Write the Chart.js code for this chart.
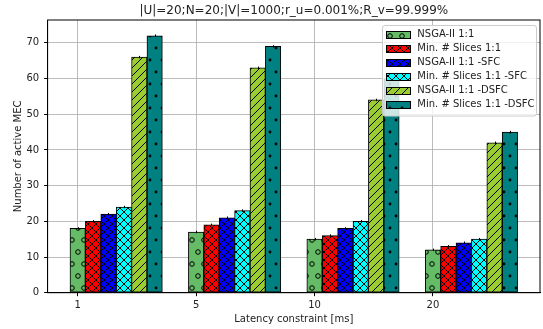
<!DOCTYPE html>
<html>
<head>
<meta charset="utf-8">
<script src="https://cdn.jsdelivr.net/npm/chart.js@4.4.0/dist/chart.umd.min.js"></script>
<style>
  html, body { margin: 0; padding: 0; background: #fff; }
  canvas { display: block; }
</style>
</head>
<body>
<canvas id="myChart" width="543" height="329"></canvas>
<script>
// data
const categories = ["1", "5", "10", "20"];
const seriesNames = [
  "NSGA-II 1:1",
  "Min. # Slices 1:1",
  "NSGA-II 1:1 -SFC",
  "Min. # Slices 1:1 -SFC",
  "NSGA-II 1:1 -DSFC",
  "Min. # Slices 1:1 -DSFC",
];
const nsga = [18, 17, 15, 12];
const minSlices = [20, 19, 16, 13];
const nsgaSfc = [22, 21, 18, 14];
const minSlicesSfc = [24, 23, 20, 15];
const nsgaDsfc = [66, 63, 54, 42];
const minSlicesDsfc = [72, 69, 60, 45];
const errBar = [0.35, 0.35, 0.35, 0.35];
const yTicks = [0, 10, 20, 30, 40, 50, 60, 70];

const series = [nsga, minSlices, nsgaSfc, minSlicesSfc, nsgaDsfc, minSlicesDsfc];
const colors = ["#66bb66", "#ff0000", "#0000ff", "#00ffff", "#9acd32", "#008080"];
const hatches = ["o", "x", "x", "x", "/", "."];

const BAR_W = 0.13;
const lo = -BAR_W / 2, hi = categories.length - 1 + (series.length - 0.5) * BAR_W;
const pad = 0.05 * (hi - lo);

function makePattern(color, hatch) {
  const c = document.createElement("canvas");
  const shapes = hatch === "o" || hatch === ".";
  c.width = shapes ? 12 : 8;
  c.height = shapes ? 24 : 8;
  const g = c.getContext("2d");
  g.fillStyle = color;
  g.fillRect(0, 0, c.width, c.height);
  g.strokeStyle = "#000";
  g.fillStyle = "#000";
  g.lineWidth = 1;
  if (hatch === "/" || hatch === "x") {
    g.beginPath();
    [0, 8, 16].forEach(k => { g.moveTo(k - 9, 9); g.lineTo(k + 1, -1); });
    if (hatch === "x") {
      [-8, 0, 8].forEach(k => { g.moveTo(k - 1, -1); g.lineTo(k + 9, 9); });
    }
    g.stroke();
  } else {
    const pts = [[0, 0], [12, 0], [0, 24], [12, 24], [6, 12]];
    pts.forEach(([px, py]) => {
      g.beginPath();
      if (hatch === "o") {
        g.arc(px, py, 2.3, 0, Math.PI * 2);
        g.stroke();
      } else {
        g.arc(px, py, 1.4, 0, Math.PI * 2);
        g.fill();
      }
    });
  }
  return g.createPattern(c, "repeat");
}

const patterns = colors.map((c, j) => makePattern(c, hatches[j]));

const datasets = series.map((vals, j) => ({
  label: seriesNames[j],
  data: vals.map((v, i) => ({ x: i + j * BAR_W, y: v })),
  backgroundColor: patterns[j],
  borderColor: "#000",
  borderWidth: 1,
  borderSkipped: false,
  grouped: false,
  barPercentage: 1,
  categoryPercentage: 1,
}));

// error bars, frame and legend drawn on top
const extras = {
  id: "extras",
  afterDraw(chart) {
    const ctx = chart.ctx, area = chart.chartArea;
    const xs = chart.scales.x, ys = chart.scales.y;
    ctx.save();
    ctx.strokeStyle = "#000";
    ctx.lineWidth = 1;
    series.forEach((vals, j) => {
      vals.forEach((v, i) => {
        const px = Math.round(xs.getPixelForValue(i + j * BAR_W)) + 0.5;
        ctx.beginPath();
        ctx.moveTo(px, ys.getPixelForValue(v - errBar[i]));
        ctx.lineTo(px, ys.getPixelForValue(v + errBar[i]));
        ctx.stroke();
      });
    });
    ctx.strokeRect(area.left, area.top, area.right - area.left, area.bottom - area.top);

    // legend
    const w = 154, rowH = 14.1;
    const h = 16 + rowH * (seriesNames.length - 1) + 4;
    const x0 = area.right - 4 - w, y0 = area.top + 5;
    ctx.beginPath();
    ctx.roundRect(x0 + 0.5, y0 + 0.5, w, h, 2.5);
    ctx.fillStyle = "rgba(255,255,255,0.8)";
    ctx.fill();
    ctx.strokeStyle = "#cccccc";
    ctx.stroke();
    ctx.font = "10px 'DejaVu Sans'";
    ctx.textBaseline = "middle";
    seriesNames.forEach((name, j) => {
      const cy = y0 + 9.3 + j * rowH;
      ctx.fillStyle = patterns[j];
      ctx.fillRect(x0 + 4.5, Math.round(cy - 3.5) + 0.5, 24, 7);
      ctx.strokeStyle = "#000";
      ctx.strokeRect(x0 + 4.5, Math.round(cy - 3.5) + 0.5, 24, 7);
      ctx.fillStyle = "#222";
      ctx.fillText(name, x0 + 35.3, cy);
    });
    ctx.restore();
  },
};

Chart.defaults.font.family = "'DejaVu Sans'";
Chart.defaults.color = "#222";

new Chart(document.getElementById("myChart"), {
  type: "bar",
  data: { datasets: datasets },
  options: {
    responsive: false,
    devicePixelRatio: 1,
    animation: false,
    layout: { padding: { top: 0, right: 3, bottom: 0, left: 0 } },
    plugins: {
      legend: { display: false },
      tooltip: { enabled: false },
      title: {
        display: true,
        text: "|U|=20;N=20;|V|=1000;r_u=0.001%;R_v=99.999%",
        fullSize: false,
        font: { size: 12, weight: "normal" },
        color: "#222",
        padding: { top: 4, bottom: 1.6 },
      },
    },
    scales: {
      x: {
        type: "linear",
        min: lo - pad,
        max: hi + pad,
        offset: false,
        z: 1,
        afterBuildTicks: s => { s.ticks = categories.map((c, i) => ({ value: i })); },
        afterFit: s => { s.height = 36.3; },
        ticks: { callback: v => categories[v], font: { size: 10 }, padding: 3, maxRotation: 0 },
        grid: { color: "rgba(176,176,176,0.85)", lineWidth: 1, offset: false, tickColor: "#000", tickLength: 3.5 },
        border: { display: true, color: "#000", width: 1 },
        title: { display: true, text: "Latency constraint [ms]", font: { size: 10 }, padding: { top: 0, bottom: 3.6 } },
      },
      y: {
        min: 0,
        max: 76.4,
        z: 1,
        afterBuildTicks: s => { s.ticks = yTicks.map(v => ({ value: v })); },
        afterFit: s => { s.width = 47.6; },
        ticks: { font: { size: 10 }, padding: 5 },
        grid: { color: "rgba(176,176,176,0.85)", lineWidth: 1, tickColor: "#000", tickLength: 3.5 },
        border: { display: true, color: "#000", width: 1 },
        title: { display: true, text: "Number of active MEC", font: { size: 10 }, padding: { top: 12.9, bottom: 0 } },
      },
    },
  },
  plugins: [extras],
});
</script>
</body>
</html>
